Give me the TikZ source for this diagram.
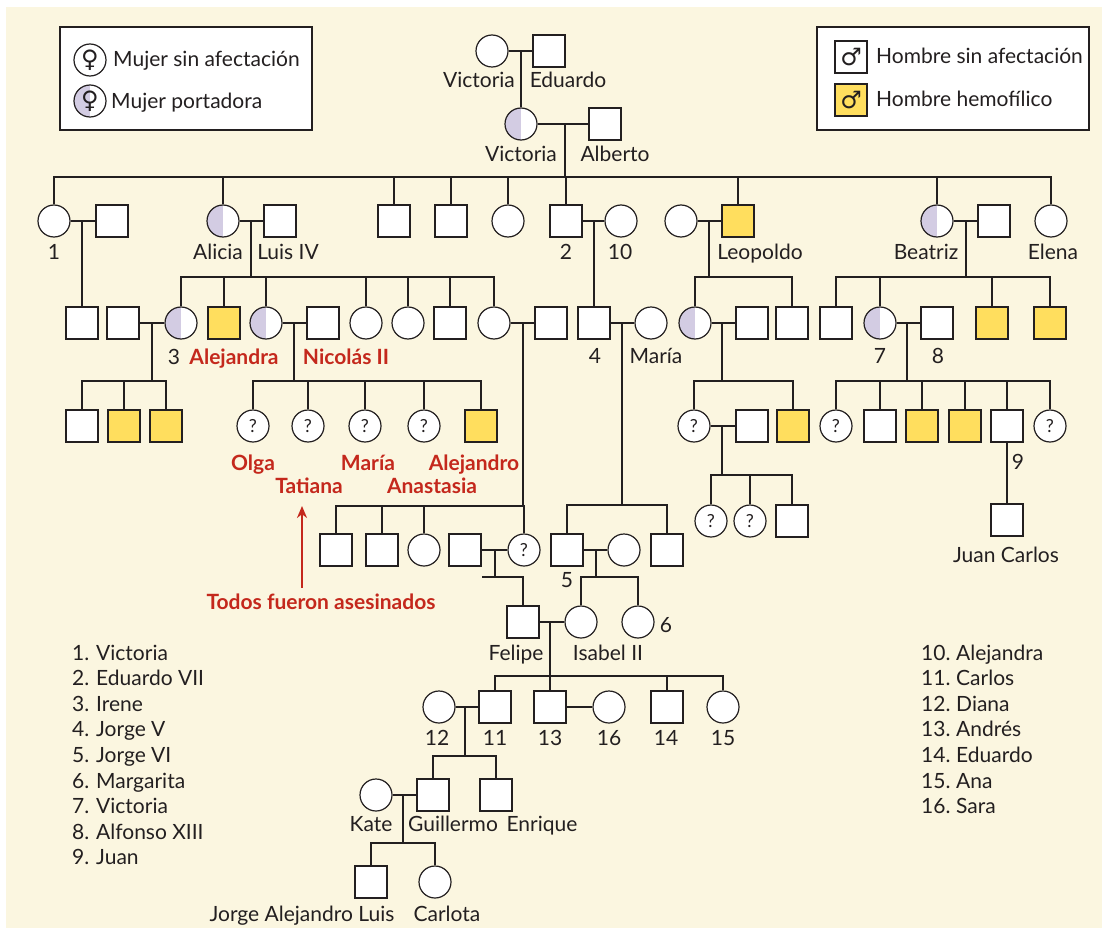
\documentclass[tikz,border=0pt]{standalone}
\usepackage{fontspec}
\usetikzlibrary{arrows.meta}
\setmainfont{Lato}
\newfontfamily\symfont{DejaVu Sans}
\definecolor{paper}{HTML}{FBF6E0}
\definecolor{ink}{HTML}{231F20}
\definecolor{lav}{HTML}{D3CCE3}
\definecolor{gold}{HTML}{FFDE5E}
\definecolor{killred}{HTML}{C4281C}
\begin{document}
\begin{tikzpicture}[
    x=1pt, y=-1pt,
    rel/.style={draw=ink, line width=2.6pt},
    person/.style={draw=ink, line width=1.2pt, fill=white, minimum size=32pt, inner sep=0pt},
    fem/.style={person, circle},
    masc/.style={person, rectangle},
    carrier/.style={fem, path picture={\fill[lav] (path picture bounding box.south west) rectangle (path picture bounding box.north);}},
    hemo/.style={masc, fill=gold},
    unk/.style={fem, text=ink, font=\fontsize{18}{18}\selectfont},
    tag/.style={text=ink, inner sep=0pt, text height=15pt, text depth=1pt, font=\fontsize{21}{24}\selectfont},
    redtag/.style={tag, text=killred, font=\fontsize{21}{24}\selectfont\bfseries},
    keybox/.style={draw=ink, line width=1.2pt, fill=white, inner sep=0pt},
    sym/.style={text=ink, font=\symfont\bfseries\fontsize{24}{24}\selectfont}
]
\useasboundingbox (0,0) rectangle (1102,928);
\fill[white] (0,0) rectangle (1102,928);
\fill[paper] (6,7) rectangle (1102,928);

% Key
\node[keybox, minimum width=252pt, minimum height=103pt] (keyF) at (186,78.5) {};
\node[fem, sym] (keyF1) at (90,60) {♀};
\node[carrier, sym] (keyF2) at (90,101) {♀};
\node[tag, anchor=west] (keyF1t) at (113,60) {Mujer sin afectación};
\node[tag, anchor=west] (keyF2t) at (111,102) {Mujer portadora};
\node[keybox, minimum width=272pt, minimum height=103pt] (keyM) at (953,78.5) {};
\node[masc, sym] (keyM1) at (851,57) {♂};
\node[hemo, sym] (keyM2) at (851,100) {♂};
\node[tag, anchor=west] (keyM1t) at (876,57) {Hombre sin afectación};
\node[tag, anchor=west] (keyM2t) at (876,100) {Hombre hemofílico};

% Generation I
\node[fem] (vicA) at (492,51) {};
\node[masc] (edu) at (549,51) {};
\node[tag] (tVicA) at (479,81) {Victoria};
\node[tag] (tEdu) at (568,81) {Eduardo};
\coordinate (mVicA) at (521,51);
\draw[rel] (vicA) -- (edu);
\node[carrier] (vicB) at (521,124) {};
\node[masc] (alb) at (605,124) {};
\node[tag] (tVicB) at (521,155) {Victoria};
\node[tag] (tAlb) at (615,155) {Alberto};
\draw[rel] (mVicA) -- (vicB);
\draw[rel] (vicB) -- (alb);
\coordinate (mVicB) at (565,124);
\coordinate (sVicB) at (565,177);
\draw[rel] (mVicB) -- (sVicB);

% Generation II
\node[fem] (vicC) at (54,221) {};
\node[masc] (vicCh) at (112,221) {};
\node[carrier] (ali) at (223,221) {};
\node[masc] (luis) at (280,221) {};
\node[masc] (sonA) at (394,221) {};
\node[masc] (sonB) at (451,221) {};
\node[fem] (dauA) at (508,221) {};
\node[masc] (edw) at (566,221) {};
\node[fem] (aleA) at (621,221) {};
\node[fem] (leoW) at (681,221) {};
\node[hemo] (leo) at (738,221) {};
\node[carrier] (bea) at (937,221) {};
\node[masc] (beaH) at (994,221) {};
\node[fem] (ele) at (1051,221) {};
\foreach \n in {vicC,ali,sonA,sonB,dauA,edw,leo,bea,ele}
  \draw[rel] (\n.north) |- (sVicB);
\node[tag] (t1) at (54,252) {1};
\node[tag] (tAli) at (218,252) {Alicia};
\node[tag] (tLuis) at (288,252) {Luis IV};
\node[tag] (t2) at (566,252) {2};
\node[tag] (t10) at (620,252) {10};
\node[tag] (tLeo) at (760,252) {Leopoldo};
\node[tag] (tBea) at (926,252) {Beatriz};
\node[tag] (tEle) at (1053,252) {Elena};
\draw[rel] (vicC) -- (vicCh);
\draw[rel] (ali) -- (luis);
\draw[rel] (edw) -- (aleA);
\draw[rel] (leoW) -- (leo);
\draw[rel] (bea) -- (beaH);
\coordinate (mVicC) at (82,221);
\coordinate (mAli) at (251,221);
\coordinate (sAli) at (251,277);
\coordinate (mEdw) at (594,221);
\coordinate (mLeo) at (709,221);
\coordinate (sLeo) at (709,277);
\coordinate (mBea) at (966,221);
\coordinate (sBea) at (966,277);
\draw[rel] (mAli) -- (sAli);
\draw[rel] (mLeo) -- (sLeo);
\draw[rel] (mBea) -- (sBea);

% Generation III
\node[masc] (hesA) at (82,323) {};
\node[masc] (ireH) at (123,323) {};
\node[carrier] (ire) at (181,323) {};
\node[hemo] (fri) at (224,323) {};
\node[carrier] (alej) at (266,323) {};
\node[masc] (nic) at (323,323) {};
\node[fem] (hesB) at (366,323) {};
\node[fem] (hesC) at (408,323) {};
\node[masc] (hesD) at (450,323) {};
\node[fem] (hesE) at (494,323) {};
\node[masc] (hesEh) at (551,323) {};
\node[masc] (jorV) at (594,323) {};
\node[fem] (mar) at (651,323) {};
\node[carrier] (leoD) at (695,323) {};
\node[masc] (leoDh) at (752,323) {};
\node[masc] (leoS) at (792,323) {};
\node[masc] (beaA) at (836,323) {};
\node[carrier] (vic7) at (880,323) {};
\node[masc] (alf) at (937,323) {};
\node[hemo] (beaB) at (992,323) {};
\node[hemo] (beaC) at (1050,323) {};
\draw[rel] (mVicC) -- (hesA);
\draw[rel] (mEdw) -- (jorV);
\foreach \n in {ire,fri,alej,hesB,hesC,hesD,hesE}
  \draw[rel] (\n.north) |- (sAli);
\foreach \n in {leoD,leoS}
  \draw[rel] (\n.north) |- (sLeo);
\foreach \n in {beaA,vic7,beaB,beaC}
  \draw[rel] (\n.north) |- (sBea);
\node[tag] (t3) at (174,357) {3};
\node[redtag] (tAlej) at (234,357) {Alejandra};
\node[redtag] (tNic) at (346,357) {Nicolás II};
\node[tag] (t4) at (595,356) {4};
\node[tag] (tMar) at (656,356) {María};
\node[tag] (t7) at (880,356) {7};
\node[tag] (t8) at (938,356) {8};
\draw[rel] (ireH) -- (ire);
\draw[rel] (alej) -- (nic);
\draw[rel] (hesE) -- (hesEh);
\draw[rel] (jorV) -- (mar);
\draw[rel] (leoD) -- (leoDh);
\draw[rel] (vic7) -- (alf);
\coordinate (mIre) at (152,323);
\coordinate (sIre) at (152,381);
\coordinate (mNic) at (294,323);
\coordinate (sNic) at (294,381);
\coordinate (mHes) at (523,323);
\coordinate (sHes) at (523,506);
\coordinate (mJor) at (622,323);
\coordinate (sJor) at (622,505);
\coordinate (mLD) at (722,323);
\coordinate (sLD) at (722,381);
\coordinate (mV7) at (907,323);
\coordinate (sV7) at (907,381);
\draw[rel] (mIre) -- (sIre);
\draw[rel] (mNic) -- (sNic);
\draw[rel] (mHes) -- (sHes);
\draw[rel] (mJor) -- (sJor);
\draw[rel] (mLD) -- (sLD);
\draw[rel] (mV7) -- (sV7);

% Generation IV
\node[masc] (ireA) at (82,426) {};
\node[hemo] (ireB) at (124,426) {};
\node[hemo] (ireC) at (166,426) {};
\node[unk] (olga) at (253,426) {?};
\node[unk] (tati) at (308,426) {?};
\node[unk] (mari) at (365,426) {?};
\node[unk] (anas) at (424,426) {?};
\node[hemo] (alex) at (481,426) {};
\node[unk] (ldA) at (694,426) {?};
\node[masc] (ldAh) at (752,426) {};
\node[hemo] (ldB) at (793,426) {};
\node[unk] (spA) at (836,426) {?};
\node[masc] (spB) at (880,426) {};
\node[hemo] (spC) at (922,426) {};
\node[hemo] (spD) at (965,426) {};
\node[masc] (juan) at (1007,426) {};
\node[unk] (spF) at (1050,426) {?};
\foreach \n in {ireA,ireB,ireC}
  \draw[rel] (\n.north) |- (sIre);
\foreach \n in {olga,tati,mari,anas,alex}
  \draw[rel] (\n.north) |- (sNic);
\foreach \n in {ldA,ldB}
  \draw[rel] (\n.north) |- (sLD);
\foreach \n in {spA,spB,spC,spD,juan,spF}
  \draw[rel] (\n.north) |- (sV7);
\draw[rel] (ldA) -- (ldAh);
\node[redtag] (tOlga) at (253,463) {Olga};
\node[redtag] (tTati) at (309,486) {Tatiana};
\node[redtag] (tMari) at (368,463) {María};
\node[redtag] (tAnas) at (432,486) {Anastasia};
\node[redtag] (tAlex) at (474,463) {Alejandro};
\node[redtag] (tTodos) at (321,602) {Todos fueron asesinados};
\coordinate (killTip) at (302,506);
\draw[killred, line width=2.2pt, -{Stealth[length=12pt,width=10pt]}] (killTip |- tTodos.north) ++(0,-6) -- (killTip);
\coordinate (mLA) at (722,426);
\coordinate (sLA) at (722,475);
\draw[rel] (mLA) -- (sLA);
\node[tag] (t9) at (1018,462) {9};

% Generation V
\node[masc] (hesF) at (336,550) {};
\node[masc] (hesG) at (382,550) {};
\node[fem] (hesH) at (424,550) {};
\node[masc] (andr) at (465,550) {};
\node[unk] (alic) at (524,550) {?};
\node[masc] (jorVI) at (567,550) {};
\node[fem] (isaM) at (624,550) {};
\node[masc] (jorS) at (667,550) {};
\node[unk] (ldC) at (711,521) {?};
\node[unk] (ldD) at (750,521) {?};
\node[masc] (ldE) at (792,521) {};
\node[masc] (juanC) at (1007,520) {};
\foreach \n in {hesF,hesG,hesH,alic}
  \draw[rel] (\n.north) |- (sHes);
\foreach \n in {jorVI,jorS}
  \draw[rel] (\n.north) |- (sJor);
\foreach \n in {ldC,ldD,ldE}
  \draw[rel] (\n.north) |- (sLA);
\draw[rel] (juan) -- (juanC);
\node[tag] (tJuanC) at (1006,555) {Juan Carlos};
\node[tag] (t5) at (567,580) {5};
\draw[rel] (andr) -- (alic);
\draw[rel] (jorVI) -- (isaM);
\coordinate (mAndr) at (495,550);
\coordinate (sAndr) at (495,577);
\coordinate (stubAndr) at (482,577);
\coordinate (mJVI) at (596,550);
\coordinate (sJVI) at (596,577);
\draw[rel] (mAndr) -- (sAndr);
\draw[rel] (mJVI) -- (sJVI);

% Generation VI
\node[masc] (fel) at (523,622) {};
\node[fem] (isa) at (581,622) {};
\node[fem] (marg) at (638,622) {};
\draw[rel] (stubAndr) -| (fel.north);
\foreach \n in {isa,marg}
  \draw[rel] (\n.north) |- (sJVI);
\draw[rel] (fel) -- (isa);
\node[tag] (t6) at (666,625) {6};
\node[tag] (tFel) at (516,653) {Felipe};
\node[tag] (tIsa) at (608,653) {Isabel II};
\coordinate (mFel) at (550,622);
\coordinate (sFel) at (550,676);
\draw[rel] (mFel) -- (sFel);

% Generation VII
\node[fem] (dia) at (439,707) {};
\node[masc] (car) at (495,707) {};
\node[masc] (and) at (550,707) {};
\node[fem] (sar) at (609,707) {};
\node[masc] (edwB) at (667,707) {};
\node[fem] (ana) at (723,707) {};
\foreach \n in {car,and,edwB,ana}
  \draw[rel] (\n.north) |- (sFel);
\draw[rel] (dia) -- (car);
\draw[rel] (and) -- (sar);
\node[tag] (t12) at (437,738) {12};
\node[tag] (t11) at (495,738) {11};
\node[tag] (t13) at (550,738) {13};
\node[tag] (t16) at (609,738) {16};
\node[tag] (t14) at (666,738) {14};
\node[tag] (t15) at (723,738) {15};
\coordinate (mCar) at (465,707);
\coordinate (sCar) at (465,756);
\draw[rel] (mCar) -- (sCar);

% Generation VIII
\node[fem] (kate) at (376,795) {};
\node[masc] (gui) at (433,795) {};
\node[masc] (enr) at (496,795) {};
\foreach \n in {gui,enr}
  \draw[rel] (\n.north) |- (sCar);
\draw[rel] (kate) -- (gui);
\node[tag] (tKate) at (371,824) {Kate};
\node[tag] (tGui) at (453,824) {Guillermo};
\node[tag] (tEnr) at (542,824) {Enrique};
\coordinate (mGui) at (403,795);
\coordinate (sGui) at (403,843);
\draw[rel] (mGui) -- (sGui);

% Generation IX
\node[masc] (jorA) at (371,882) {};
\node[fem] (carl) at (435,882) {};
\foreach \n in {jorA,carl}
  \draw[rel] (\n.north) |- (sGui);
\node[tag] (tJorA) at (302,914) {Jorge Alejandro Luis};
\node[tag] (tCarl) at (447,914) {Carlota};

% Numbered names
\foreach \i/\who in {1/Victoria,2/Eduardo VII,3/Irene,4/Jorge V,5/Jorge VI,6/Margarita,7/Victoria,8/Alfonso XIII,9/Juan} {
  \node[tag, anchor=west] (num\i) at (72,{653+(\i-1)*25.6}) {\i.};
  \node[tag, anchor=west] (who\i) at (96,{653+(\i-1)*25.6}) {\who};
}
\foreach \i/\who in {10/Alejandra,11/Carlos,12/Diana,13/Andrés,14/Eduardo,15/Ana,16/Sara} {
  \node[tag, anchor=west] (num\i) at (921,{653+(\i-10)*25.6}) {\i.};
  \node[tag, anchor=west] (who\i) at (956,{653+(\i-10)*25.6}) {\who};
}
\end{tikzpicture}
\end{document}
